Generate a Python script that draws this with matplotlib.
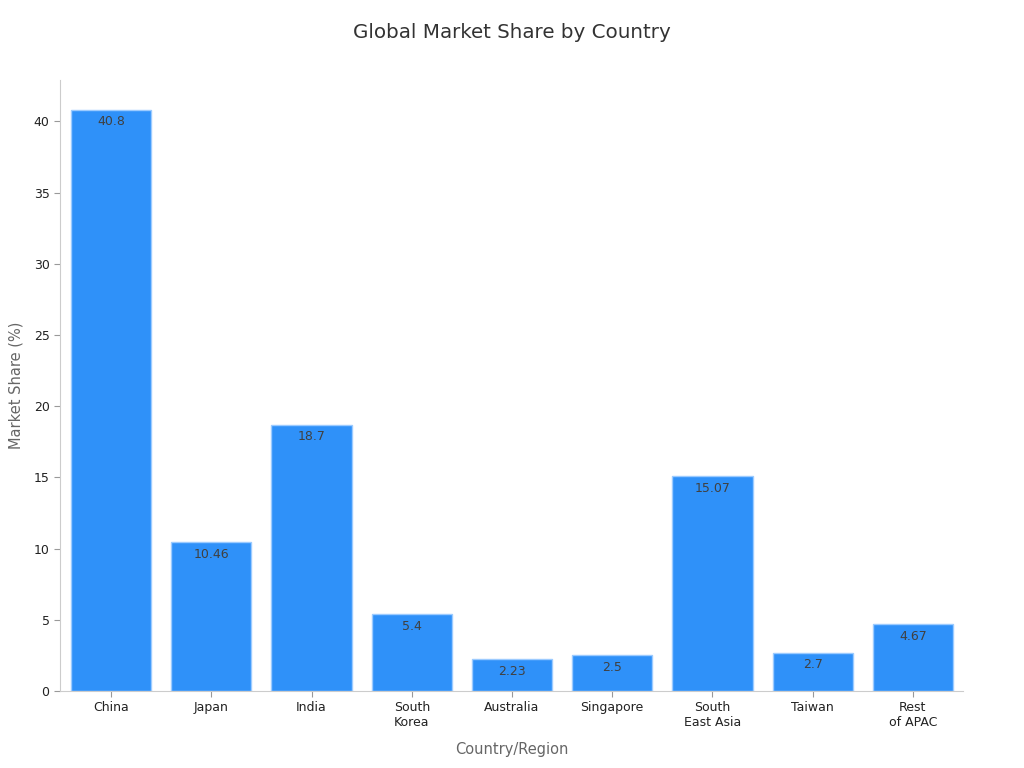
import matplotlib.pyplot as plt

countries = ["China", "Japan", "India", "South\nKorea", "Australia", "Singapore",
             "South\nEast Asia", "Taiwan", "Rest\nof APAC"]
shares = [40.8, 10.46, 18.7, 5.4, 2.23, 2.5, 15.07, 2.7, 4.67]
yticks = [0, 5, 10, 15, 20, 25, 30, 35, 40]

fig = plt.figure(figsize=(10.24, 7.68), dpi=100)
ax = fig.add_axes([0.0586, 0.1003, 0.8818, 0.7955])

x = range(len(countries))
bars = ax.bar(x, shares, width=0.8, color="#2f91f9", edgecolor="#9ccbff", linewidth=1)

for b, v in zip(bars, shares):
    ax.annotate(f"{v:g}", (b.get_x() + b.get_width() / 2, v),
                xytext=(0, -4), textcoords="offset points",
                ha="center", va="top", fontsize=9, color="#404040")

ax.set_xlim(-0.51, 8.5)
ax.set_ylim(0, 42.9)
ax.set_xticks(list(x))
ax.set_xticklabels(countries, fontsize=9, color="#222222")
ax.set_yticks(yticks)
ax.set_yticklabels([str(t) for t in yticks], fontsize=9, color="#222222")
ax.tick_params(colors="#999999", labelcolor="#222222", length=4)

for s in ["top", "right"]:
    ax.spines[s].set_visible(False)
for s in ["left", "bottom"]:
    ax.spines[s].set_color("#cccccc")

ax.set_xlabel("Country/Region", fontsize=10.5, color="#666666", labelpad=9)
ax.set_ylabel("Market Share (%)", fontsize=10.5, color="#666666", labelpad=7)
fig.suptitle("Global Market Share by Country", fontsize=14.3, color="#333333", y=0.97)

fig.savefig("out.png", dpi=100)
